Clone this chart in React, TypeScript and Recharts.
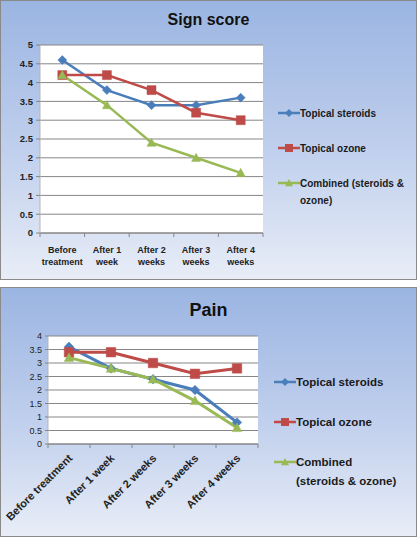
import React from 'react';
import { LineChart, Line, XAxis, YAxis, CartesianGrid } from 'recharts';

const categories = ['Before treatment', 'After 1 week', 'After 2 weeks', 'After 3 weeks', 'After 4 weeks'];
const signTickLines = [['Before', 'treatment'], ['After 1', 'week'], ['After 2', 'weeks'], ['After 3', 'weeks'], ['After 4', 'weeks']];

const signSteroids = [4.6, 3.8, 3.4, 3.4, 3.6];
const signOzone = [4.2, 4.2, 3.8, 3.2, 3.0];
const signCombined = [4.2, 3.4, 2.4, 2.0, 1.6];

const painSteroids = [3.6, 2.8, 2.4, 2.0, 0.8];
const painOzone = [3.4, 3.4, 3.0, 2.6, 2.8];
const painCombined = [3.2, 2.8, 2.4, 1.6, 0.6];

const signTicks = [0, 0.5, 1, 1.5, 2, 2.5, 3, 3.5, 4, 4.5, 5];
const painTicks = [0, 0.5, 1, 1.5, 2, 2.5, 3, 3.5, 4];

const seriesKeys = ['steroids', 'ozone', 'combined'];
const seriesNames = ['Topical steroids', 'Topical ozone', 'Combined (steroids & ozone)'];
const seriesColors = ['#4a7ebb', '#be4b48', '#98b954'];
const seriesShapes = ['diamond', 'square', 'triangle'];
const signLegendLines = [['Topical steroids'], ['Topical ozone'], ['Combined (steroids &', 'ozone)']];
const painLegendLines = [['Topical steroids'], ['Topical ozone'], ['Combined', '(steroids & ozone)']];

const signData = categories.map((c, i) => ({
  name: c,
  steroids: signSteroids[i],
  ozone: signOzone[i],
  combined: signCombined[i],
}));
const painData = categories.map((c, i) => ({
  name: c,
  steroids: painSteroids[i],
  ozone: painOzone[i],
  combined: painCombined[i],
}));

const FONT = '"Liberation Sans", Arial, sans-serif';
const BG = 'linear-gradient(180deg, #9bb5e2 0%, #c1d0ed 55%, #e8edf7 100%)';

function markerPath(shape: string, cx: number, cy: number, size: number) {
  const s = size / 2;
  if (shape === 'diamond') return `M${cx},${cy - s}L${cx + s},${cy}L${cx},${cy + s}L${cx - s},${cy}Z`;
  if (shape === 'square') return `M${cx - s},${cy - s}L${cx + s},${cy - s}L${cx + s},${cy + s}L${cx - s},${cy + s}Z`;
  return `M${cx},${cy - s}L${cx + s},${cy + s * 0.8}L${cx - s},${cy + s * 0.8}Z`;
}

const makeDot = (shape: string, color: string, size: number) => (props: any) => {
  const { cx, cy, index } = props;
  if (cx == null || cy == null) return <g key={index} />;
  return <path key={index} d={markerPath(shape, cx, cy, size)} fill={color} stroke={color} strokeWidth={0.5} />;
};

const SignTick = (props: any) => {
  const { x, y, payload } = props;
  const off = payload.offset ?? 22.3;
  const lines = signTickLines[payload.index] || [payload.value];
  return (
    <g>
      <line x1={x - off} x2={x - off} y1={y} y2={y + 4} stroke="#868686" />
      {payload.index === categories.length - 1 && (
        <line x1={x + off} x2={x + off} y1={y} y2={y + 4} stroke="#868686" />
      )}
      <text x={x} y={y + 20} textAnchor="middle" fontSize={9} fontWeight="bold" fill="#222" fontFamily={FONT}>
        {lines.map((l: string, i: number) => (
          <tspan key={i} x={x} dy={i === 0 ? 0 : 12}>{l}</tspan>
        ))}
      </text>
    </g>
  );
};

const PainTick = (props: any) => {
  const { x, y, payload } = props;
  const off = payload.offset ?? 21;
  return (
    <g>
      <line x1={x - off} x2={x - off} y1={y} y2={y + 4} stroke="#868686" />
      {payload.index === categories.length - 1 && (
        <line x1={x + off} x2={x + off} y1={y} y2={y + 4} stroke="#868686" />
      )}
      <text
        x={x + 4}
        y={y + 15}
        textAnchor="end"
        fontSize={11}
        fontWeight="bold"
        fill="#222"
        fontFamily={FONT}
        transform={`rotate(-45 ${x + 4} ${y + 15})`}
      >
        {payload.value}
      </text>
    </g>
  );
};

function LegendBox({ lines, top, left, gap, fontSize, lineHeight }: any) {
  return (
    <div style={{ position: 'absolute', left, top, fontFamily: FONT, fontSize, fontWeight: 'bold', color: '#1a1a1a' }}>
      {seriesNames.map((n, i) => (
        <div key={n} style={{ position: 'absolute', left: 0, top: i * gap, whiteSpace: 'nowrap' }}>
          <svg width={22} height={12} style={{ position: 'absolute', left: 0, top: -6 }}>
            <line x1={0} x2={22} y1={6} y2={6} stroke={seriesColors[i]} strokeWidth={2.5} />
            <path d={markerPath(seriesShapes[i], 11, 6, 8)} fill={seriesColors[i]} />
          </svg>
          <div style={{ position: 'absolute', left: 22, top: -lineHeight / 2, lineHeight: `${lineHeight}px` }}>
            {lines[i].map((l: string, j: number) => (
              <div key={j}>{l}</div>
            ))}
          </div>
        </div>
      ))}
    </div>
  );
}

function Panel({ top, height, title, titleSize, titleTop, children }: any) {
  return (
    <div
      style={{
        position: 'absolute',
        left: 0,
        top,
        width: 417,
        height,
        boxSizing: 'border-box',
        border: '1px solid #8a8a8a',
        background: BG,
        overflow: 'hidden',
      }}
    >
      <div
        style={{
          position: 'absolute',
          left: -1,
          top: titleTop - 1,
          width: 417,
          textAlign: 'center',
          fontFamily: FONT,
          fontWeight: 'bold',
          fontSize: titleSize,
          lineHeight: `${titleSize + 4}px`,
          color: '#111',
        }}
      >
        {title}
      </div>
      <div style={{ position: 'absolute', left: -1, top: -1 }}>{children}</div>
    </div>
  );
}

function renderLines(dotSize: number, width: number) {
  return seriesKeys.map((k, i) => (
    <Line
      key={k}
      type="linear"
      dataKey={k}
      name={seriesNames[i]}
      stroke={seriesColors[i]}
      strokeWidth={width}
      dot={makeDot(seriesShapes[i], seriesColors[i], dotSize)}
      activeDot={false}
      isAnimationActive={false}
    />
  ));
}

export default function App() {
  return (
    <div style={{ position: 'absolute', left: 0, top: 0, width: 419, height: 540, background: '#fff' }}>
      <Panel top={0} height={280} title="Sign score" titleSize={16} titleTop={10}>
        <LineChart width={417} height={280} data={signData} margin={{ top: 45, right: 154, left: 0, bottom: 0 }}>
          <CartesianGrid vertical={false} stroke="#868686" fill="#ffffff" fillOpacity={1} />
          <XAxis
            dataKey="name"
            scale="band"
            height={47}
            tickLine={false}
            tickSize={0}
            tickMargin={0}
            axisLine={{ stroke: '#868686' }}
            tick={<SignTick />}
            interval={0}
          />
          <YAxis
            width={40}
            domain={[0, 5]}
            ticks={signTicks}
            interval={0}
            axisLine={{ stroke: '#b5b5b5' }}
            tickLine={{ stroke: '#868686' }}
            tickSize={4}
            tickMargin={3}
            tick={{ fontSize: 9.5, fontWeight: 'bold', fill: '#222', fontFamily: FONT }}
          />
          {renderLines(9, 2.5)}
        </LineChart>
        <LegendBox lines={signLegendLines} top={113} left={278} gap={35} fontSize={10} lineHeight={17} />
      </Panel>
      <Panel top={287} height={250} title="Pain" titleSize={18} titleTop={12}>
        <LineChart width={417} height={250} data={painData} margin={{ top: 49, right: 159, left: 0, bottom: 0 }}>
          <CartesianGrid vertical={false} stroke="#868686" fill="#ffffff" fillOpacity={1} />
          <XAxis
            dataKey="name"
            scale="band"
            height={93}
            tickLine={false}
            tickSize={0}
            tickMargin={0}
            axisLine={{ stroke: '#868686' }}
            tick={<PainTick />}
            interval={0}
          />
          <YAxis
            width={48}
            domain={[0, 4]}
            ticks={painTicks}
            interval={0}
            axisLine={{ stroke: '#b5b5b5' }}
            tickLine={{ stroke: '#868686' }}
            tickSize={3}
            tickMargin={3}
            tick={{ fontSize: 9, fill: '#222', fontFamily: FONT }}
          />
          {renderLines(9.5, 3)}
        </LineChart>
        <LegendBox lines={painLegendLines} top={95} left={274} gap={40} fontSize={11.5} lineHeight={19} />
      </Panel>
    </div>
  );
}
